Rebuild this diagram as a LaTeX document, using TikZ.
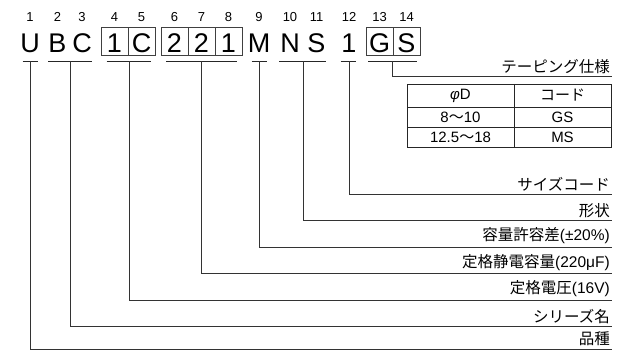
\documentclass[tikz,border=0pt]{standalone}
\usepackage{fontspec}
\setmainfont{Liberation Sans}
\newfontfamily\jp{Noto Sans CJK JP}

\begin{document}
\begin{tikzpicture}[x=1pt,y=-1pt,
  letter/.style={anchor=base,inner sep=0pt,font=\fontsize{27}{27}\selectfont},
  digit/.style={anchor=base,inner sep=0pt,font=\fontsize{13}{13}\selectfont},
  bar/.style={line width=1.8pt,black!85},
  lead/.style={line width=0.9pt,black!80},
  cell/.style={draw=black!75,line width=0.8pt},
  tag/.style={anchor=south east,inner sep=0pt,font=\fontsize{15.5}{16}\selectfont},
  tab/.style={inner sep=0pt,font=\fontsize{15}{16}\selectfont}]
\useasboundingbox (0,0) rectangle (622,350);
% part number with digit positions
\foreach \x/\c/\n in {30/U/1,57.5/B/2,82/C/3,114.5/1/4,141.5/C/5,174.5/2/6,201.5/2/7,228.5/1/8,259/M/9,290/N/10,316.5/S/11,349/1/12,379.5/G/13,406.5/S/14}{
  \node[digit] (n\n) at (\x,21.7) {\n};
  \node[letter] (c\n) at (\x,52.3) {\c};
}
\draw[cell] (101,27.7) rectangle (155,55) (128,27.7) -- (128,55);
\draw[cell] (161.5,27.7) rectangle (242,55) (188.5,27.7) -- (188.5,55) (215,27.7) -- (215,55);
\draw[cell] (366,27.7) rectangle (420.5,55) (393,27.7) -- (393,55);
% underlines
\draw[bar] (22.7,61.5) -- (38.3,61.5);
\draw[bar] (48.3,61.5) -- (91.7,61.5);
\draw[bar] (106.7,61.5) -- (151,61.5);
\draw[bar] (166,61.5) -- (236.7,61.5);
\draw[bar] (251.7,61.5) -- (267.3,61.5);
\draw[bar] (279.3,61.5) -- (326,61.5);
\draw[bar] (340.7,61.5) -- (356,61.5);
\draw[bar] (368.3,61.5) -- (416.7,61.5);
\coordinate (uKind) at (30,61.5);
\coordinate (uSeries) at (70,61.5);
\coordinate (uVolt) at (129,61.5);
\coordinate (uCap) at (201.5,61.5);
\coordinate (uTol) at (259.3,61.5);
\coordinate (uShape) at (303.3,61.5);
\coordinate (uSize) at (349.3,61.5);
\coordinate (uTape) at (392.5,61.5);
% line ends
\coordinate (eTape) at (612,76.7);
\coordinate (eSize) at (612,194);
\coordinate (eShape) at (612,220.7);
\coordinate (eTol) at (612,247);
\coordinate (eCap) at (612,273.5);
\coordinate (eVolt) at (612,300);
\coordinate (eSeries) at (612,326.7);
\coordinate (eKind) at (612,349);
% labels
\node[tag] (tTape) at ([shift={(-2,-3)}]eTape) {\jp テーピング仕様};
\node[tag] (tSize) at ([shift={(-2,-3)}]eSize) {\jp サイズコード};
\node[tag] (tShape) at ([shift={(-2,-3)}]eShape) {\jp 形状};
\node[tag] (tTol) at ([shift={(-2,-3)}]eTol) {{\jp 容量許容差}(±20\%)};
\node[tag] (tCap) at ([shift={(-2,-3)}]eCap) {{\jp 定格静電容量}(220μF)};
\node[tag] (tVolt) at ([shift={(-2,-3)}]eVolt) {{\jp 定格電圧}(16V)};
\node[tag] (tSeries) at ([shift={(-2,-3)}]eSeries) {\jp シリーズ名};
\node[tag] (tKind) at ([shift={(-2,-3)}]eKind) {\jp 品種};
\foreach \g in {Tape,Size,Shape,Tol,Cap,Volt,Series,Kind}
  \draw[lead] (u\g) |- (e\g);
% taping table
\draw[cell,draw=black!85] (407,84) rectangle (611,147);
\draw[cell,draw=black!85] (407,107) -- (611,107) (407,127) -- (611,127) (514,84) -- (514,147);
\node[tab] (hDia) at (460.5,95.5) {{\itshape φ}D};
\node[tab] (hCode) at (562.5,95.5) {\jp コード};
\node[tab] (r1Dia) at (460.5,117) {8{\jp 〜}10};
\node[tab] (r1Code) at (562.5,117) {GS};
\node[tab] (r2Dia) at (460.5,137) {12.5{\jp 〜}18};
\node[tab] (r2Code) at (562.5,137) {MS};
\end{tikzpicture}
\end{document}
